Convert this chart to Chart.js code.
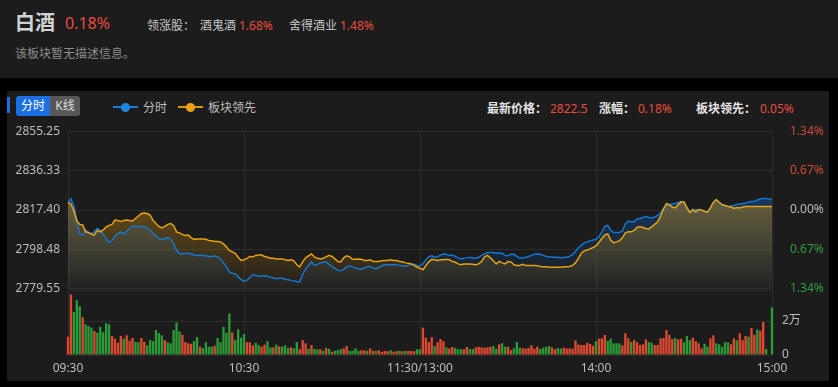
<!DOCTYPE html>
<html>
<head>
<meta charset="utf-8">
<script src="https://cdn.jsdelivr.net/npm/chart.js@4.4.1/dist/chart.umd.min.js"></script>
<style>
  html, body { margin: 0; padding: 0; background: #000; width: 838px; height: 387px; overflow: hidden;
    font-family: "Noto Sans", "Noto Sans CJK SC", sans-serif; }
  .abs { position: absolute; white-space: nowrap; line-height: 1; }
  #head { position: absolute; left: 0; top: 0; width: 838px; height: 78px; background: #1c1c1c; }
  #panel { position: absolute; left: 7px; top: 91px; width: 822px; height: 290px; background: #1c1c1c; }
  .t12 { font-size: 12px; }
  .up { color: #ea4b3c; }
  .btn { position: absolute; top: 96px; height: 20px; line-height: 20px; font-size: 12px; text-align: center; }
  .lgline { position: absolute; width: 25px; height: 2px; }
  .lgdot { position: absolute; width: 9px; height: 9px; border-radius: 50%; }
  .info { font-weight: bold; color: #e6e6e6; }
  #priceBox { position: absolute; left: 7px; top: 114px; }
  #volBox { position: absolute; left: 7px; top: 273px; }
</style>
</head>
<body>
<div id="head"></div>
<div id="panel"></div>

<span class="abs" style="left:15px;top:13px;font-size:20px;font-weight:bold;color:#d2d2d2;">白酒</span>
<span class="abs up" style="left:65px;top:15px;font-size:16px;">0.18%</span>
<span class="abs t12" style="left:147px;top:20px;color:#c8c8c8;">领涨股：</span>
<span class="abs t12" style="left:200px;top:20px;color:#c8c8c8;">酒鬼酒</span>
<span class="abs t12 up" style="left:239px;top:20px;">1.68%</span>
<span class="abs t12" style="left:289px;top:20px;color:#c8c8c8;">舍得酒业</span>
<span class="abs t12 up" style="left:340px;top:20px;">1.48%</span>
<span class="abs t12" style="left:15px;top:48px;color:#8c8c8c;">该板块暂无描述信息。</span>

<div style="position:absolute;left:7px;top:97px;width:3px;height:16px;background:#1f6fe0;"></div>
<div class="btn" style="left:16px;width:34px;background:#1c6fe0;color:#fff;border-radius:3px 0 0 3px;">分时</div>
<div class="btn" style="left:50px;width:30px;background:#585858;color:#ddd;border-radius:0 3px 3px 0;">K线</div>

<div class="lgline" style="left:113px;top:106px;background:#1d7bd3;"></div>
<div class="lgdot" style="left:121px;top:103px;background:#1f86dc;"></div>
<span class="abs t12" style="left:143px;top:102px;color:#bdbdbd;">分时</span>
<div class="lgline" style="left:178px;top:106px;background:#d99a12;"></div>
<div class="lgdot" style="left:186px;top:103px;background:#eca314;"></div>
<span class="abs t12" style="left:208px;top:102px;color:#bdbdbd;">板块领先</span>

<span class="abs t12 info" style="left:487px;top:103px;">最新价格：</span>
<span class="abs t12 up" style="left:550px;top:103px;">2822.5</span>
<span class="abs t12 info" style="left:599px;top:103px;">涨幅：</span>
<span class="abs t12 up" style="left:638px;top:103px;">0.18%</span>
<span class="abs t12 info" style="left:696px;top:103px;">板块领先：</span>
<span class="abs t12 up" style="left:760px;top:103px;">0.05%</span>

<div id="priceBox"><canvas id="price" width="822" height="192"></canvas></div>
<div id="volBox"><canvas id="vol" width="822" height="107"></canvas></div>

<script>
const PREV_CLOSE = 2817.40;
const PRICE_TICKS = [2779.55, 2798.48, 2817.40, 2836.33, 2855.25];
const VOL_TICKS = [0, 20000, 38200];
const TICK_INDEX = [0, 60, 120, 180, 240];
const TICK_TEXT = ['09:30', '10:30', '11:30/13:00', '14:00', '15:00'];

// 分时 price, one value per minute
const PRICE = [
  2821.2, 2822.7, 2819.3, 2812.6, 2805.9, 2805.4, 2807.8, 2806.4, 2806.1, 2806.9,
  2808.5, 2807.6, 2805.7, 2803.7, 2801.8, 2802.6, 2805.0, 2806.1, 2806.9, 2805.9,
  2807.1, 2808.5, 2809.7, 2809.5, 2809.3, 2809.5, 2809.5, 2808.5, 2807.6, 2806.1,
  2805.0, 2803.7, 2803.3, 2803.7, 2804.2, 2803.7, 2801.1, 2798.0, 2796.6, 2796.3,
  2796.6, 2796.6, 2796.3, 2795.8, 2795.4, 2795.8, 2795.6, 2795.4, 2795.1, 2795.1,
  2795.4, 2794.9, 2793.9, 2792.0, 2790.1, 2787.7, 2787.0, 2786.7, 2785.3, 2784.1,
  2783.2, 2783.6, 2785.1, 2786.3, 2786.0, 2785.6, 2785.6, 2785.8, 2785.6, 2785.1,
  2784.8, 2784.4, 2784.6, 2784.6, 2784.1, 2783.9, 2783.6, 2783.4, 2782.9, 2782.9,
  2786.3, 2789.1, 2790.6, 2792.5, 2790.8, 2791.3, 2792.0, 2792.3, 2792.5, 2791.3,
  2790.3, 2789.4, 2788.4, 2788.2, 2788.9, 2790.1, 2790.6, 2790.1, 2789.6, 2789.1,
  2789.1, 2789.4, 2790.1, 2790.3, 2789.6, 2789.1, 2789.9, 2790.6, 2791.1, 2791.1,
  2791.1, 2791.1, 2791.1, 2790.8, 2790.6, 2790.3, 2790.8, 2791.3, 2791.3, 2790.6,
  2790.6, 2791.5, 2793.5, 2794.9, 2795.4, 2794.7, 2794.9, 2795.8, 2796.3, 2796.1,
  2795.6, 2795.8, 2795.1, 2794.4, 2793.9, 2794.2, 2794.4, 2794.7, 2794.2, 2794.2,
  2794.7, 2795.6, 2796.3, 2797.0, 2797.0, 2797.0, 2796.6, 2796.8, 2796.6, 2795.6,
  2795.4, 2796.1, 2796.1, 2795.1, 2794.4, 2794.4, 2794.7, 2795.1, 2795.6, 2796.1,
  2796.3, 2796.1, 2795.6, 2795.1, 2794.9, 2794.7, 2794.7, 2794.7, 2794.4, 2794.7,
  2794.7, 2795.1, 2796.1, 2797.5, 2799.4, 2800.4, 2801.6, 2802.1, 2802.6, 2803.0,
  2803.3, 2804.5, 2806.9, 2809.5, 2810.0, 2807.8, 2806.6, 2806.6, 2806.6, 2807.3,
  2810.7, 2812.1, 2811.7, 2811.9, 2813.1, 2813.3, 2813.8, 2814.3, 2813.8, 2813.6,
  2814.0, 2814.8, 2816.0, 2818.1, 2819.3, 2820.0, 2820.3, 2820.5, 2821.0, 2821.5,
  2821.2, 2818.6, 2816.7, 2816.7, 2817.6, 2817.4, 2817.2, 2816.9, 2816.2, 2818.4,
  2821.0, 2822.0, 2821.2, 2819.8, 2819.3, 2819.1, 2819.3, 2819.6, 2820.0, 2820.3,
  2820.5, 2820.8, 2821.2, 2821.5, 2821.5, 2822.2, 2822.7, 2822.9, 2822.9, 2822.7, 2822.5
];

// 板块领先, same scale
const LEAD = [
  2821.0, 2820.3, 2816.9, 2812.1, 2810.5, 2810.2, 2806.9, 2806.6, 2805.7, 2805.4,
  2807.6, 2806.9, 2807.8, 2809.3, 2810.0, 2810.5, 2812.6, 2812.4, 2811.9, 2812.4,
  2812.6, 2812.4, 2812.1, 2813.3, 2814.5, 2815.7, 2816.0, 2815.7, 2815.0, 2812.4,
  2810.9, 2809.5, 2808.8, 2809.5, 2810.5, 2810.9, 2810.0, 2806.9, 2806.4, 2805.7,
  2805.2, 2805.4, 2804.0, 2803.3, 2803.5, 2803.5, 2803.5, 2803.3, 2802.8, 2802.6,
  2802.3, 2802.3, 2802.1, 2801.1, 2799.7, 2798.0, 2797.3, 2796.6, 2794.7, 2793.2,
  2793.5, 2794.2, 2795.1, 2794.9, 2795.6, 2795.8, 2795.8, 2795.1, 2794.7, 2794.2,
  2794.2, 2793.9, 2793.9, 2793.9, 2793.5, 2793.2, 2793.5, 2793.0, 2791.1, 2790.1,
  2792.5, 2794.4, 2795.4, 2796.3, 2794.9, 2794.2, 2793.9, 2794.2, 2794.9, 2795.6,
  2795.1, 2793.9, 2792.7, 2792.5, 2794.4, 2795.4, 2794.9, 2793.7, 2793.7, 2793.9,
  2793.7, 2793.2, 2793.2, 2793.5, 2792.7, 2792.7, 2792.7, 2793.0, 2793.2, 2793.2,
  2793.5, 2793.2, 2793.2, 2792.7, 2792.5, 2792.0, 2791.8, 2791.5, 2790.8, 2789.9,
  2789.4, 2788.7, 2790.6, 2792.5, 2793.7, 2793.5, 2793.2, 2793.5, 2793.5, 2793.7,
  2793.5, 2792.7, 2792.3, 2791.5, 2791.1, 2791.5, 2791.5, 2791.5, 2791.3, 2791.1,
  2791.5, 2792.7, 2794.9, 2795.6, 2794.4, 2793.0, 2791.5, 2792.7, 2792.0, 2791.5,
  2792.7, 2792.5, 2791.1, 2790.8, 2790.8, 2791.3, 2790.8, 2790.8, 2790.8, 2790.8,
  2790.6, 2790.3, 2790.1, 2790.1, 2789.9, 2789.9, 2789.9, 2789.9, 2789.9, 2790.1,
  2790.1, 2790.3, 2790.8, 2792.0, 2794.2, 2796.6, 2797.8, 2798.2, 2798.7, 2799.4,
  2800.2, 2801.8, 2803.7, 2805.4, 2805.9, 2803.0, 2801.6, 2802.1, 2802.6, 2804.0,
  2806.4, 2806.9, 2806.9, 2807.6, 2809.0, 2809.5, 2809.0, 2808.5, 2808.3, 2809.3,
  2810.5, 2811.7, 2814.3, 2817.9, 2820.5, 2819.8, 2818.8, 2818.4, 2820.0, 2821.2,
  2821.2, 2818.4, 2816.2, 2817.6, 2816.4, 2817.6, 2817.4, 2816.7, 2816.4, 2818.4,
  2821.0, 2822.4, 2821.0, 2820.0, 2819.6, 2819.1, 2818.8, 2818.1, 2818.6, 2818.4,
  2818.8, 2819.1, 2819.1, 2819.1, 2819.1, 2819.1, 2819.1, 2819.1, 2819.1, 2819.1, 2819.1
];

const VOLUME = [
  10800, 35700, 25300, 32300, 28800, 22300, 18100, 17100, 16100, 14100,
  13100, 16600, 13500, 18800, 18100, 11200, 9600, 7200, 11300, 9600,
  11600, 8400, 10000, 7800, 7500, 10000, 7800, 5700, 8800, 8200,
  14700, 12900, 11600, 8800, 7500, 6900, 14700, 19200, 13900, 11900,
  7600, 6900, 6600, 8200, 10600, 4900, 4100, 7500, 4900, 4900,
  5500, 10000, 7500, 16600, 13100, 24500, 13300, 8800, 15100, 10200,
  12300, 7600, 7500, 5700, 7200, 5900, 4900, 6100, 8200, 4500,
  4500, 6100, 5100, 4900, 5700, 4100, 4500, 3900, 7600, 3500,
  8800, 6900, 3700, 5900, 3500, 3400, 3400, 2500, 4100, 3700,
  1900, 2500, 2900, 3400, 3900, 5300, 2400, 2500, 3900, 2400,
  2800, 2800, 2400, 3900, 2400, 2400, 2800, 1900, 2400, 2200,
  2800, 1900, 2200, 2500, 2200, 2400, 2400, 2400, 2200, 3400,
  3400, 16100, 10200, 7600, 10600, 5300, 7600, 9400, 8100, 4500,
  3900, 4700, 4100, 3400, 3400, 3400, 4700, 3500, 3500, 4500,
  4900, 4500, 4300, 4500, 4900, 5300, 3700, 6300, 6900, 4900,
  4900, 2900, 3900, 7600, 4300, 4100, 3700, 4100, 5700, 3700,
  4900, 3500, 4300, 4900, 5300, 4500, 3400, 4100, 3700, 4300,
  3900, 3900, 3700, 8600, 6100, 5900, 5900, 7200, 6500, 5500,
  8200, 9700, 9800, 11800, 8400, 9600, 6900, 6900, 6900, 5700,
  12800, 9800, 7600, 8800, 7500, 5900, 6300, 9200, 7600, 7200,
  5900, 5900, 9800, 10000, 14700, 11900, 9400, 10000, 9200, 9600,
  7500, 11200, 8800, 10200, 8200, 6900, 3900, 6600, 4900, 9800,
  11600, 6900, 6300, 4900, 7500, 7500, 6300, 9800, 8600, 12800,
  8800, 11200, 10800, 15900, 11900, 15100, 14300, 19400, 3500, 0, 28000
];

// 1 = up (red), -1 = down (green)
const DIRECTION = [
  1, 1, -1, -1, -1, 1, -1, -1, -1, 1,
  -1, -1, -1, -1, -1, 1, 1, 1, 1, -1,
  1, 1, 1, -1, -1, 1, 1, -1, -1, -1,
  -1, -1, -1, 1, -1, -1, -1, -1, -1, 1,
  1, 1, 1, -1, -1, 1, -1, -1, -1, -1,
  1, -1, -1, -1, -1, -1, 1, -1, -1, -1,
  -1, 1, 1, 1, -1, -1, 1, 1, -1, -1,
  1, -1, 1, -1, -1, -1, 1, -1, -1, 1,
  1, 1, -1, 1, -1, -1, 1, -1, 1, -1,
  1, -1, -1, -1, 1, 1, -1, -1, -1, -1,
  1, 1, -1, 1, 1, -1, 1, 1, 1, 1,
  -1, 1, 1, -1, 1, -1, 1, 1, 1, -1,
  -1, 1, 1, 1, 1, -1, 1, 1, 1, -1,
  1, 1, -1, -1, -1, 1, 1, -1, -1, 1,
  1, 1, 1, 1, 1, -1, -1, 1, -1, -1,
  1, 1, -1, -1, -1, 1, 1, 1, 1, 1,
  1, -1, -1, -1, -1, 1, 1, -1, -1, 1,
  1, 1, 1, 1, 1, 1, 1, 1, 1, 1,
  -1, 1, 1, 1, -1, -1, -1, -1, -1, 1,
  1, 1, -1, 1, 1, 1, 1, 1, -1, -1,
  1, 1, 1, 1, 1, 1, 1, -1, 1, 1,
  -1, -1, -1, 1, 1, 1, 1, -1, -1, 1,
  1, -1, -1, -1, -1, -1, 1, 1, -1, 1,
  1, 1, -1, 1, 1, -1, 1, 1, -1, -1, -1
];

// minute labels 09:30..11:30, 13:01..15:00
const TIMES = [];
for (let m = 0; m <= 240; m++) {
  const t = m <= 120 ? 570 + m : 780 + (m - 120);
  TIMES.push(String(Math.floor(t / 60)).padStart(2, '0') + ':' + String(t % 60).padStart(2, '0'));
}

const FONT = { family: '"Noto Sans", "Noto Sans CJK SC", sans-serif', size: 12 };
const GRID = '#2d2d2d';
const AXIS_TEXT = '#bcbcbc';
const vGrid = c => TICK_INDEX.includes(c.index) ? GRID : 'transparent';

function fade(rgb, top, bottom) {
  return c => {
    const area = c.chart.chartArea;
    if (!area) return 'transparent';
    const g = c.chart.ctx.createLinearGradient(0, area.top, 0, area.bottom);
    g.addColorStop(0, `rgba(${rgb},${top})`);
    g.addColorStop(1, `rgba(${rgb},${bottom})`);
    return g;
  };
}

const pct = v => Math.abs((v - PREV_CLOSE) / PREV_CLOSE * 100).toFixed(2) + '%';

// tick padding of the y axes also pads the chart area top/bottom (~17px),
// so the canvases are placed a bit larger than the plot area
new Chart(document.getElementById('price'), {
  type: 'line',
  data: {
    labels: TIMES,
    datasets: [
      {
        label: '分时', data: PRICE, order: 1,
        borderColor: '#1675d0', borderWidth: 1.5, pointRadius: 0, tension: 0,
        fill: 'start', backgroundColor: fade('10,100,200', 0.62, 0.03),
      },
      {
        label: '板块领先', data: LEAD, order: 0,
        borderColor: '#e6a114', borderWidth: 1.5, pointRadius: 0, tension: 0,
        fill: 'start', backgroundColor: fade('200,140,20', 0.78, 0.04),
      },
    ],
  },
  options: {
    responsive: false,
    animation: false,
    layout: { padding: 0 },
    plugins: { legend: { display: false }, tooltip: { enabled: false }, filler: { drawTime: 'beforeDatasetsDraw' } },
    scales: {
      x: {
        ticks: { display: false },
        grid: { color: vGrid, drawTicks: false },
        border: { display: false },
        afterFit: s => { s.height = 0; },
      },
      y: {
        position: 'left', min: PRICE_TICKS[0], max: PRICE_TICKS[4],
        afterBuildTicks: s => { s.ticks = PRICE_TICKS.map(v => ({ value: v })); },
        ticks: { color: AXIS_TEXT, font: FONT, padding: 8, callback: v => v.toFixed(2) },
        grid: { color: GRID, drawTicks: false },
        border: { display: false },
        afterFit: s => { s.width = 61; },
      },
      pct: {
        position: 'right', min: PRICE_TICKS[0], max: PRICE_TICKS[4],
        afterBuildTicks: s => { s.ticks = PRICE_TICKS.map(v => ({ value: v })); },
        ticks: {
          font: FONT, padding: 10, callback: v => pct(v),
          color: c => c.tick.value > PREV_CLOSE ? '#cf4a3a' : c.tick.value < PREV_CLOSE ? '#2e9c40' : AXIS_TEXT,
        },
        grid: { display: false },
        border: { display: false },
        afterFit: s => { s.width = 57; },
      },
    },
  },
});

new Chart(document.getElementById('vol'), {
  type: 'bar',
  data: {
    labels: TIMES,
    datasets: [{
      data: VOLUME,
      backgroundColor: DIRECTION.map(d => d > 0 ? '#dd4a30' : '#2c9a38'),
      barPercentage: 0.8, categoryPercentage: 1, clip: false,
    }],
  },
  options: {
    responsive: false,
    animation: false,
    layout: { padding: { left: 61 } },
    plugins: { legend: { display: false }, tooltip: { enabled: false } },
    scales: {
      x: {
        offset: false,
        grid: { color: vGrid, drawTicks: false, offset: false },
        border: { display: false },
        ticks: {
          autoSkip: false, maxRotation: 0, padding: 6, color: AXIS_TEXT, font: FONT,
          callback: (v, i) => { const k = TICK_INDEX.indexOf(i); return k < 0 ? '' : TICK_TEXT[k]; },
        },
        afterFit: s => { s.height = 25; },
      },
      y: {
        position: 'right', min: 0, max: VOL_TICKS[2],
        afterBuildTicks: s => { s.ticks = VOL_TICKS.map(v => ({ value: v })); },
        ticks: { color: AXIS_TEXT, font: FONT, padding: 10, callback: v => v === 0 ? '0' : v === 20000 ? '2万' : '' },
        grid: { color: GRID, drawTicks: false },
        border: { display: false },
        afterFit: s => { s.width = 57; },
      },
    },
  },
});
</script>
</body>
</html>
